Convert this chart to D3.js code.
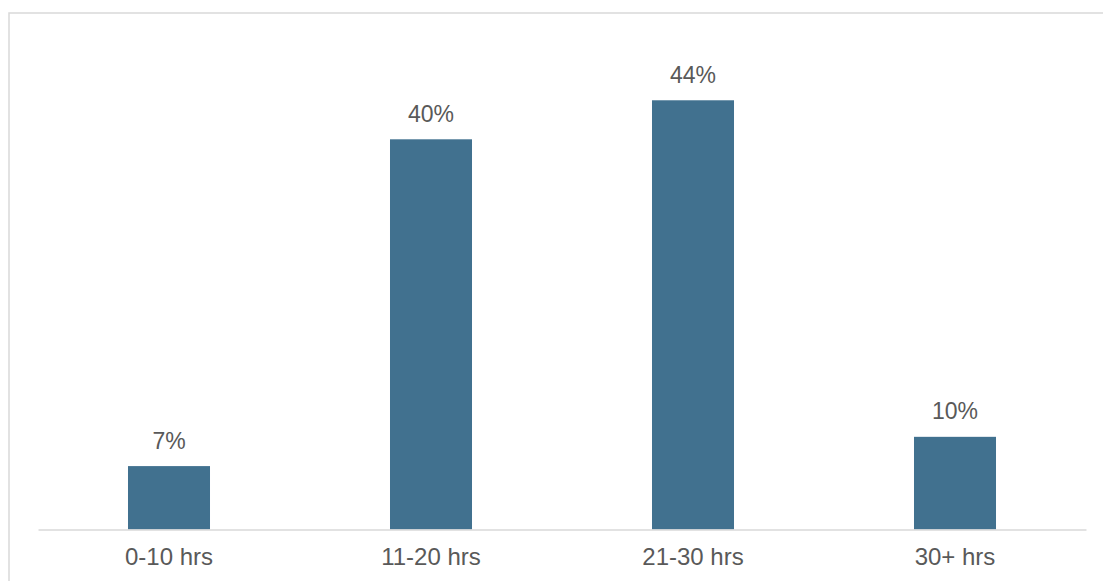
<!DOCTYPE html>
<html>
<head>
<meta charset="utf-8">
<script src="https://cdn.jsdelivr.net/npm/d3@7"></script>
<style>
  html, body { margin: 0; padding: 0; background: #fff; }
  svg { display: block; }
</style>
</head>
<body>
<svg id="chart" width="1103" height="581"></svg>
<script>
const categories = ["0-10 hrs", "11-20 hrs", "21-30 hrs", "30+ hrs"];
const values = [6.5, 40, 44, 9.5];
const valueLabels = ["7%", "40%", "44%", "10%"];

const svg = d3.select("#chart");
const W = 1103, H = 581;

// outer frame (extends past the image edges)
svg.append("rect")
  .attr("x", 9).attr("y", 13)
  .attr("width", W + 20).attr("height", H + 20)
  .attr("fill", "none").attr("stroke", "#d9d9d9").attr("stroke-width", 1.5);

const x = d3.scaleBand().domain(categories).range([38, 1086]).paddingInner(0.687).paddingOuter(0.3435);
const y = d3.scaleLinear().domain([0, 50]).range([529.5, 41.75]);

svg.selectAll("rect.bar")
  .data(values)
  .join("rect")
  .attr("class", "bar")
  .attr("x", (d, i) => x(categories[i]))
  .attr("y", d => y(d))
  .attr("width", x.bandwidth())
  .attr("height", d => y(0) - y(d))
  .attr("fill", "#41718f");

const xAxis = svg.append("g")
  .attr("transform", `translate(0,${y(0)})`)
  .call(d3.axisBottom(x).tickSize(0).tickPadding(0));
xAxis.select(".domain").attr("stroke", "#d9d9d9").attr("stroke-width", 1.5);
xAxis.selectAll(".tick text")
  .attr("dy", null)
  .attr("y", 35.5)
  .attr("fill", "#595959")
  .style("font-family", "'Liberation Sans', Arial, sans-serif")
  .style("font-size", "24px");

svg.selectAll("text.vlabel")
  .data(values)
  .join("text")
  .attr("class", "vlabel")
  .attr("x", (d, i) => x(categories[i]) + x.bandwidth() / 2)
  .attr("y", d => y(d) - 17.5)
  .attr("text-anchor", "middle")
  .attr("fill", "#595959")
  .style("font-family", "'Liberation Sans', Arial, sans-serif")
  .style("font-size", "23px")
  .text((d, i) => valueLabels[i]);
</script>
</body>
</html>
